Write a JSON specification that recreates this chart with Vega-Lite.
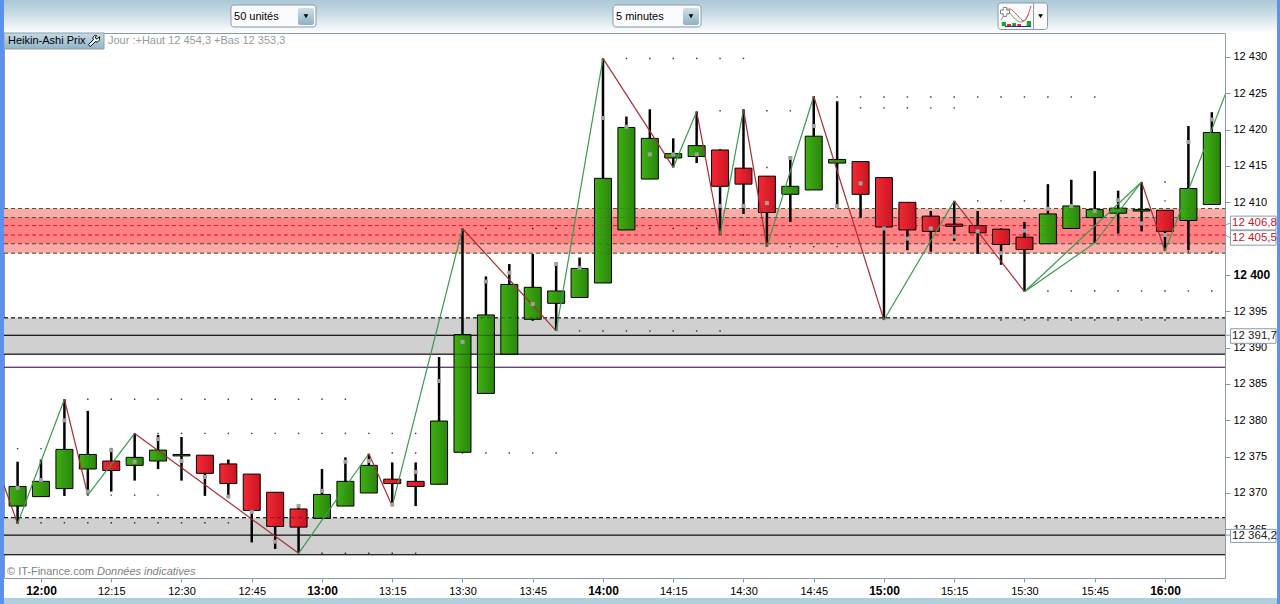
{
  "$schema": "https://vega.github.io/schema/vega-lite/v6.json",
  "width": 1221,
  "height": 545,
  "autosize": "none",
  "padding": {"left": 4, "top": 33, "right": 55, "bottom": 26},
  "background": "white",
  "config": {
    "font": "Liberation Sans",
    "view": {"stroke": "#8A9BA8", "strokeWidth": 1},
    "text": {"font": "Liberation Sans"}
  },
  "datasets": {
    "candles": [
      {"t":"2011-03-01T11:55","open":12368.2,"close":12370.9,"high":12374.3,"low":12365.8,"last":12370.7},
      {"t":"2011-03-01T12:00","open":12369.5,"close":12371.6,"high":12374.6,"low":12369.5,"last":12371.8},
      {"t":"2011-03-01T12:05","open":12370.6,"close":12376.0,"high":12382.9,"low":12369.6,"last":12380.0},
      {"t":"2011-03-01T12:10","open":12373.3,"close":12375.3,"high":12381.3,"low":12369.7,"last":12370.2},
      {"t":"2011-03-01T12:15","open":12374.4,"close":12373.1,"high":12376.2,"low":12370.2,"last":12375.9},
      {"t":"2011-03-01T12:20","open":12373.8,"close":12374.9,"high":12378.2,"low":12371.7,"last":12374.3},
      {"t":"2011-03-01T12:25","open":12374.4,"close":12375.9,"high":12378.0,"low":12373.3,"last":12377.4},
      {"t":"2011-03-01T12:30","open":12375.1,"close":12375.3,"high":12377.7,"low":12371.7,"last":12374.4},
      {"t":"2011-03-01T12:35","open":12375.2,"close":12372.7,"high":12375.2,"low":12369.6,"last":12372.2},
      {"t":"2011-03-01T12:40","open":12374.0,"close":12371.3,"high":12374.6,"low":12369.3,"last":12369.5},
      {"t":"2011-03-01T12:45","open":12372.6,"close":12367.6,"high":12372.6,"low":12363.2,"last":12367.4},
      {"t":"2011-03-01T12:50","open":12370.1,"close":12365.4,"high":12370.1,"low":12362.3,"last":12363.3},
      {"t":"2011-03-01T12:55","open":12367.8,"close":12365.3,"high":12368.2,"low":12361.7,"last":12368.2},
      {"t":"2011-03-01T13:00","open":12366.5,"close":12369.8,"high":12373.3,"low":12366.5,"last":12370.3},
      {"t":"2011-03-01T13:05","open":12368.2,"close":12371.6,"high":12374.9,"low":12368.2,"last":12374.3},
      {"t":"2011-03-01T13:10","open":12370.0,"close":12373.8,"high":12375.4,"low":12370.0,"last":12374.4},
      {"t":"2011-03-01T13:15","open":12371.9,"close":12371.3,"high":12374.2,"low":12368.2,"last":12368.4},
      {"t":"2011-03-01T13:20","open":12371.6,"close":12370.9,"high":12374.2,"low":12368.2,"last":12372.9},
      {"t":"2011-03-01T13:25","open":12371.2,"close":12379.9,"high":12388.7,"low":12371.2,"last":12385.4},
      {"t":"2011-03-01T13:30","open":12375.6,"close":12391.8,"high":12406.4,"low":12375.6,"last":12390.8},
      {"t":"2011-03-01T13:35","open":12383.7,"close":12394.5,"high":12399.8,"low":12383.7,"last":12399.1},
      {"t":"2011-03-01T13:40","open":12389.1,"close":12398.7,"high":12401.5,"low":12389.1,"last":12400.3},
      {"t":"2011-03-01T13:45","open":12393.9,"close":12398.3,"high":12402.9,"low":12393.7,"last":12396.0},
      {"t":"2011-03-01T13:50","open":12396.1,"close":12397.8,"high":12401.6,"low":12392.3,"last":12401.5},
      {"t":"2011-03-01T13:55","open":12396.9,"close":12400.9,"high":12402.4,"low":12396.9,"last":12401.0},
      {"t":"2011-03-01T14:00","open":12398.9,"close":12413.3,"high":12429.8,"low":12398.9,"last":12421.6},
      {"t":"2011-03-01T14:05","open":12406.2,"close":12420.3,"high":12421.8,"low":12406.2,"last":12420.4},
      {"t":"2011-03-01T14:10","open":12413.2,"close":12418.8,"high":12422.8,"low":12413.2,"last":12416.6},
      {"t":"2011-03-01T14:15","open":12416.1,"close":12416.7,"high":12418.8,"low":12414.8,"last":12416.6},
      {"t":"2011-03-01T14:20","open":12416.3,"close":12417.8,"high":12422.5,"low":12415.4,"last":12416.6},
      {"t":"2011-03-01T14:25","open":12417.2,"close":12412.2,"high":12417.3,"low":12405.5,"last":12409.5},
      {"t":"2011-03-01T14:30","open":12414.7,"close":12412.5,"high":12422.8,"low":12408.4,"last":12409.5},
      {"t":"2011-03-01T14:35","open":12413.6,"close":12408.6,"high":12413.6,"low":12403.9,"last":12409.9},
      {"t":"2011-03-01T14:40","open":12411.1,"close":12412.2,"high":12416.1,"low":12407.3,"last":12416.1},
      {"t":"2011-03-01T14:45","open":12411.7,"close":12419.1,"high":12424.6,"low":12411.7,"last":12420.5},
      {"t":"2011-03-01T14:50","open":12415.4,"close":12415.9,"high":12423.9,"low":12409.5,"last":12409.5},
      {"t":"2011-03-01T14:55","open":12415.6,"close":12411.1,"high":12415.6,"low":12407.9,"last":12412.6},
      {"t":"2011-03-01T15:00","open":12413.4,"close":12406.6,"high":12413.4,"low":12393.8,"last":12406.4},
      {"t":"2011-03-01T15:05","open":12410.0,"close":12406.2,"high":12410.0,"low":12403.4,"last":12405.0},
      {"t":"2011-03-01T15:10","open":12408.1,"close":12406.0,"high":12408.8,"low":12403.2,"last":12406.4},
      {"t":"2011-03-01T15:15","open":12407.0,"close":12406.7,"high":12410.2,"low":12404.7,"last":12405.3},
      {"t":"2011-03-01T15:20","open":12406.8,"close":12405.8,"high":12408.8,"low":12402.9,"last":12406.0},
      {"t":"2011-03-01T15:25","open":12406.3,"close":12404.2,"high":12406.4,"low":12401.4,"last":12403.0},
      {"t":"2011-03-01T15:30","open":12405.2,"close":12403.5,"high":12407.3,"low":12397.7,"last":12406.1},
      {"t":"2011-03-01T15:35","open":12404.3,"close":12408.4,"high":12412.5,"low":12404.3,"last":12409.1},
      {"t":"2011-03-01T15:40","open":12406.4,"close":12409.5,"high":12413.1,"low":12406.4,"last":12409.5},
      {"t":"2011-03-01T15:45","open":12407.9,"close":12409.0,"high":12414.3,"low":12404.4,"last":12408.8},
      {"t":"2011-03-01T15:50","open":12408.5,"close":12409.2,"high":12411.6,"low":12405.7,"last":12410.3},
      {"t":"2011-03-01T15:55","open":12408.8,"close":12409.0,"high":12412.8,"low":12406.0,"last":12407.1},
      {"t":"2011-03-01T16:00","open":12408.9,"close":12406.0,"high":12408.9,"low":12403.3,"last":12405.5},
      {"t":"2011-03-01T16:05","open":12407.5,"close":12411.9,"high":12420.5,"low":12403.4,"last":12418.3},
      {"t":"2011-03-01T16:10","open":12409.7,"close":12419.6,"high":12422.4,"low":12409.7,"last":12421.4}
    ],
    "levels": [
      {"t":"2011-03-01T11:52:06","t2":"2011-03-01T16:12:49","p":12409.15,"tone":"green","line":"dash"},
      {"t":"2011-03-01T11:52:06","t2":"2011-03-01T16:12:49","p":12407.9,"tone":"green","line":"dash"},
      {"t":"2011-03-01T11:52:06","t2":"2011-03-01T16:12:49","p":12406.8,"tone":"red","line":"dash"},
      {"t":"2011-03-01T11:52:06","t2":"2011-03-01T16:12:49","p":12405.5,"tone":"red","line":"dash"},
      {"t":"2011-03-01T11:52:06","t2":"2011-03-01T16:12:49","p":12404.3,"tone":"green","line":"dash"},
      {"t":"2011-03-01T11:52:06","t2":"2011-03-01T16:12:49","p":12403.0,"tone":"green","line":"dash"},
      {"t":"2011-03-01T11:52:06","t2":"2011-03-01T16:12:49","p":12394.1,"tone":"black","line":"dash"},
      {"t":"2011-03-01T11:52:06","t2":"2011-03-01T16:12:49","p":12391.7,"tone":"black","line":"solid"},
      {"t":"2011-03-01T11:52:06","t2":"2011-03-01T16:12:49","p":12389.1,"tone":"black","line":"solid"},
      {"t":"2011-03-01T11:52:06","t2":"2011-03-01T16:12:49","p":12387.3,"tone":"purple","line":"solid"},
      {"t":"2011-03-01T11:52:06","t2":"2011-03-01T16:12:49","p":12366.6,"tone":"black","line":"dash"},
      {"t":"2011-03-01T11:52:06","t2":"2011-03-01T16:12:49","p":12364.2,"tone":"black","line":"solid"},
      {"t":"2011-03-01T11:52:06","t2":"2011-03-01T16:12:49","p":12361.5,"tone":"black","line":"solid"}
    ]
  },
  "resolve": {"scale": {"color": "independent"}},
  "encoding": {
    "x": {
      "field": "t",
      "type": "temporal",
      "scale": {"nice": false, "padding": 0, "domain": [
        {"year": 2011, "month": 3, "date": 1, "hours": 11, "minutes": 52, "seconds": 6},
        {"year": 2011, "month": 3, "date": 1, "hours": 16, "minutes": 12, "seconds": 49}
      ]},
      "axis": {
        "title": null,
        "grid": false,
        "domain": false,
        "tickColor": "#8A9BA8",
        "tickSize": 4,
        "labelPadding": 3,
        "labelColor": "black",
        "labelFlush": false,
        "labelOverlap": false,
        "format": "%H:%M",
        "values": [
          {"year":2011,"month":3,"date":1,"hours":12,"minutes":0},{"year":2011,"month":3,"date":1,"hours":12,"minutes":15},{"year":2011,"month":3,"date":1,"hours":12,"minutes":30},{"year":2011,"month":3,"date":1,"hours":12,"minutes":45},
          {"year":2011,"month":3,"date":1,"hours":13,"minutes":0},{"year":2011,"month":3,"date":1,"hours":13,"minutes":15},{"year":2011,"month":3,"date":1,"hours":13,"minutes":30},{"year":2011,"month":3,"date":1,"hours":13,"minutes":45},
          {"year":2011,"month":3,"date":1,"hours":14,"minutes":0},{"year":2011,"month":3,"date":1,"hours":14,"minutes":15},{"year":2011,"month":3,"date":1,"hours":14,"minutes":30},{"year":2011,"month":3,"date":1,"hours":14,"minutes":45},
          {"year":2011,"month":3,"date":1,"hours":15,"minutes":0},{"year":2011,"month":3,"date":1,"hours":15,"minutes":15},{"year":2011,"month":3,"date":1,"hours":15,"minutes":30},{"year":2011,"month":3,"date":1,"hours":15,"minutes":45},
          {"year":2011,"month":3,"date":1,"hours":16,"minutes":0}
        ],
        "labelFontSize": {"condition": {"test": "minutes(datum.value) == 0", "value": 12}, "value": 11},
        "labelFontWeight": {"condition": {"test": "minutes(datum.value) == 0", "value": "bold"}, "value": "normal"}
      }
    },
    "y": {
      "field": "p",
      "type": "quantitative",
      "scale": {"domain": [12358.3, 12433.3], "zero": false, "nice": false},
      "axis": {
        "title": null,
        "orient": "right",
        "grid": false,
        "domain": false,
        "tickColor": "#8A9BA8",
        "tickSize": 5,
        "labelPadding": 3,
        "labelColor": "black",
        "labelOverlap": false,
        "labelFlush": false,
        "values": [12365, 12370, 12375, 12380, 12385, 12390, 12395, 12400, 12410, 12415, 12420, 12425, 12430],
        "labelExpr": "replace(format(datum.value, ','), ',', ' ')",
        "labelFontSize": {"condition": {"test": "datum.value == 12400", "value": 12}, "value": 11},
        "labelFontWeight": {"condition": {"test": "datum.value == 12400", "value": "bold"}, "value": "normal"}
      }
    }
  },
  "layer": [
    {
      "data": {"values": [
        {"t":"2011-03-01T11:52:06","t2":"2011-03-01T16:12:49","p":12403.0,"p2":12409.15,"zone":"outer"},
        {"t":"2011-03-01T11:52:06","t2":"2011-03-01T16:12:49","p":12404.3,"p2":12407.9,"zone":"inner"},
        {"t":"2011-03-01T11:52:06","t2":"2011-03-01T16:12:49","p":12389.1,"p2":12394.1,"zone":"grey"},
        {"t":"2011-03-01T11:52:06","t2":"2011-03-01T16:12:49","p":12361.5,"p2":12366.6,"zone":"grey"}
      ]},
      "mark": {"type": "rect"},
      "encoding": {
        "x2": {"field": "t2"},
        "y2": {"field": "p2"},
        "color": {"field": "zone", "type": "nominal", "legend": null, "scale": {"domain": ["outer", "inner", "grey"], "range": ["#FFAAAA", "#FF8184", "#D0D0D0"]}}
      }
    },
    {
      "data": {"name": "levels"},
      "mark": {"type": "rule", "strokeWidth": 1},
      "encoding": {
        "x2": {"field": "t2"},
        "color": {"field": "tone", "type": "nominal", "legend": null, "scale": {"domain": ["green", "red", "black", "purple"], "range": ["#2F6B2F", "#E0202C", "#000000", "#4A1068"]}},
        "strokeDash": {"field": "line", "type": "nominal", "legend": null, "scale": {"domain": ["solid", "dash"], "range": [[1, 0], [4, 3]]}}
      }
    },
    {
      "data": {"values": [
        {"t":"2011-03-01T12:10","p":12382.9},{"t":"2011-03-01T12:15","p":12382.9},{"t":"2011-03-01T12:20","p":12382.9},{"t":"2011-03-01T12:25","p":12382.9},{"t":"2011-03-01T12:30","p":12382.9},{"t":"2011-03-01T12:35","p":12382.9},{"t":"2011-03-01T12:40","p":12382.9},{"t":"2011-03-01T12:45","p":12382.9},{"t":"2011-03-01T12:50","p":12382.9},{"t":"2011-03-01T12:55","p":12382.9},{"t":"2011-03-01T13:00","p":12382.9},{"t":"2011-03-01T13:05","p":12382.9},
        {"t":"2011-03-01T12:25","p":12378.2},{"t":"2011-03-01T12:30","p":12378.2},{"t":"2011-03-01T12:35","p":12378.2},{"t":"2011-03-01T12:40","p":12378.2},{"t":"2011-03-01T12:45","p":12378.2},{"t":"2011-03-01T12:50","p":12378.2},{"t":"2011-03-01T12:55","p":12378.2},{"t":"2011-03-01T13:00","p":12378.2},{"t":"2011-03-01T13:05","p":12378.2},{"t":"2011-03-01T13:10","p":12378.2},{"t":"2011-03-01T13:15","p":12378.2},{"t":"2011-03-01T13:20","p":12378.2},{"t":"2011-03-01T13:25","p":12378.2},{"t":"2011-03-01T13:30","p":12378.2},
        {"t":"2011-03-01T11:55","p":12376.1},{"t":"2011-03-01T12:00","p":12376.1},
        {"t":"2011-03-01T13:15","p":12375.5},{"t":"2011-03-01T13:20","p":12375.5},{"t":"2011-03-01T13:25","p":12375.5},{"t":"2011-03-01T13:30","p":12375.5},{"t":"2011-03-01T13:35","p":12375.5},{"t":"2011-03-01T13:40","p":12375.5},{"t":"2011-03-01T13:45","p":12375.5},{"t":"2011-03-01T13:50","p":12375.5},
        {"t":"2011-03-01T12:05","p":12369.7},{"t":"2011-03-01T12:10","p":12369.7},{"t":"2011-03-01T12:15","p":12369.7},{"t":"2011-03-01T12:20","p":12369.7},{"t":"2011-03-01T12:25","p":12369.7},
        {"t":"2011-03-01T11:55","p":12365.9},{"t":"2011-03-01T12:00","p":12365.9},{"t":"2011-03-01T12:05","p":12365.9},{"t":"2011-03-01T12:10","p":12365.9},{"t":"2011-03-01T12:15","p":12365.9},{"t":"2011-03-01T12:20","p":12365.9},{"t":"2011-03-01T12:25","p":12365.9},{"t":"2011-03-01T12:30","p":12365.9},{"t":"2011-03-01T12:35","p":12365.9},{"t":"2011-03-01T12:40","p":12365.9},
        {"t":"2011-03-01T13:00","p":12361.7},{"t":"2011-03-01T13:05","p":12361.7},{"t":"2011-03-01T13:10","p":12361.7},{"t":"2011-03-01T13:15","p":12361.7},{"t":"2011-03-01T13:20","p":12361.7},
        {"t":"2011-03-01T13:35","p":12406.4},{"t":"2011-03-01T13:40","p":12406.4},{"t":"2011-03-01T13:45","p":12406.4},{"t":"2011-03-01T13:50","p":12406.4},{"t":"2011-03-01T13:55","p":12406.4},{"t":"2011-03-01T14:00","p":12406.4},{"t":"2011-03-01T14:05","p":12406.4},{"t":"2011-03-01T14:10","p":12406.4},{"t":"2011-03-01T14:15","p":12406.4},{"t":"2011-03-01T14:20","p":12406.4},
        {"t":"2011-03-01T13:55","p":12392.3},{"t":"2011-03-01T14:00","p":12392.3},{"t":"2011-03-01T14:05","p":12392.3},{"t":"2011-03-01T14:10","p":12392.3},{"t":"2011-03-01T14:15","p":12392.3},{"t":"2011-03-01T14:20","p":12392.3},{"t":"2011-03-01T14:25","p":12392.3},
        {"t":"2011-03-01T14:05","p":12429.8},{"t":"2011-03-01T14:10","p":12429.8},{"t":"2011-03-01T14:15","p":12429.8},{"t":"2011-03-01T14:20","p":12429.8},{"t":"2011-03-01T14:25","p":12429.8},{"t":"2011-03-01T14:30","p":12429.8},
        {"t":"2011-03-01T14:50","p":12424.5},{"t":"2011-03-01T14:55","p":12424.5},{"t":"2011-03-01T15:00","p":12424.5},{"t":"2011-03-01T15:05","p":12424.5},{"t":"2011-03-01T15:10","p":12424.5},{"t":"2011-03-01T15:15","p":12424.5},{"t":"2011-03-01T15:20","p":12424.5},{"t":"2011-03-01T15:25","p":12424.5},{"t":"2011-03-01T15:30","p":12424.5},{"t":"2011-03-01T15:35","p":12424.5},{"t":"2011-03-01T15:40","p":12424.5},{"t":"2011-03-01T15:45","p":12424.5},
        {"t":"2011-03-01T14:55","p":12423.0},{"t":"2011-03-01T15:00","p":12423.0},{"t":"2011-03-01T15:05","p":12423.0},{"t":"2011-03-01T15:10","p":12423.0},{"t":"2011-03-01T15:15","p":12423.0},
        {"t":"2011-03-01T14:25","p":12422.6},{"t":"2011-03-01T14:35","p":12422.6},{"t":"2011-03-01T14:40","p":12422.6},
        {"t":"2011-03-01T14:25","p":12414.8},{"t":"2011-03-01T14:35","p":12414.8},
        {"t":"2011-03-01T14:40","p":12403.9},{"t":"2011-03-01T14:45","p":12403.9},{"t":"2011-03-01T14:50","p":12403.9},
        {"t":"2011-03-01T14:30","p":12405.5},
        {"t":"2011-03-01T15:25","p":12393.8},{"t":"2011-03-01T15:30","p":12393.8},{"t":"2011-03-01T15:35","p":12393.8},{"t":"2011-03-01T15:40","p":12393.8},{"t":"2011-03-01T15:45","p":12393.8},{"t":"2011-03-01T15:50","p":12393.8},{"t":"2011-03-01T15:55","p":12393.8},{"t":"2011-03-01T16:00","p":12393.8},
        {"t":"2011-03-01T15:35","p":12397.8},{"t":"2011-03-01T15:40","p":12397.8},{"t":"2011-03-01T15:45","p":12397.8},{"t":"2011-03-01T15:50","p":12397.8},{"t":"2011-03-01T15:55","p":12397.8},{"t":"2011-03-01T16:00","p":12397.8},{"t":"2011-03-01T16:05","p":12397.8},{"t":"2011-03-01T16:10","p":12397.8},
        {"t":"2011-03-01T15:20","p":12410.2},{"t":"2011-03-01T15:25","p":12410.2},{"t":"2011-03-01T15:30","p":12410.2},{"t":"2011-03-01T16:00","p":12410.2},{"t":"2011-03-01T16:05","p":12410.2},{"t":"2011-03-01T16:10","p":12410.2},
        {"t":"2011-03-01T16:00","p":12412.8},{"t":"2011-03-01T16:05","p":12412.8},{"t":"2011-03-01T16:10","p":12412.8},
        {"t":"2011-03-01T16:05","p":12403.2},{"t":"2011-03-01T16:10","p":12403.2}
      ]},
      "mark": {"type": "point", "shape": "square", "filled": true, "size": 2, "color": "#111111", "opacity": 0.85}
    },
    {
      "data": {"name": "candles"},
      "mark": {"type": "rule", "color": "black", "strokeWidth": 2.5},
      "encoding": {
        "y": {"field": "low", "type": "quantitative"},
        "y2": {"field": "high"}
      }
    },
    {
      "data": {"name": "candles"},
      "transform": [{"filter": "datum.close >= datum.open"}],
      "mark": {
        "type": "bar",
        "width": 17,
        "stroke": "black",
        "strokeWidth": 1,
        "fill": {"gradient": "linear", "x1": 0, "y1": 0, "x2": 1, "y2": 0, "stops": [{"offset": 0, "color": "#3FAF12"}, {"offset": 1, "color": "#2A860C"}]}
      },
      "encoding": {
        "y": {"field": "open", "type": "quantitative"},
        "y2": {"field": "close"}
      }
    },
    {
      "data": {"name": "candles"},
      "transform": [{"filter": "datum.close < datum.open"}],
      "mark": {
        "type": "bar",
        "width": 17,
        "stroke": "black",
        "strokeWidth": 1,
        "fill": {"gradient": "linear", "x1": 0, "y1": 0, "x2": 1, "y2": 0, "stops": [{"offset": 0, "color": "#F22A34"}, {"offset": 1, "color": "#CC1422"}]}
      },
      "encoding": {
        "y": {"field": "open", "type": "quantitative"},
        "y2": {"field": "close"}
      }
    },
    {
      "data": {"name": "levels"},
      "mark": {"type": "rule", "strokeWidth": 1, "opacity": 0.35},
      "encoding": {
        "x2": {"field": "t2"},
        "color": {"field": "tone", "type": "nominal", "legend": null, "scale": {"domain": ["green", "red", "black", "purple"], "range": ["#2F6B2F", "#E0202C", "#000000", "#4A1068"]}},
        "strokeDash": {"field": "line", "type": "nominal", "legend": null, "scale": {"domain": ["solid", "dash"], "range": [[1, 0], [4, 3]]}}
      }
    },
    {
      "data": {"values": [
        {"t":"2011-03-01T11:50","p":12374.8,"t2":"2011-03-01T11:55","p2":12365.8,"leg":"down"},
        {"t":"2011-03-01T11:55","p":12365.8,"t2":"2011-03-01T12:05","p2":12382.9,"leg":"up"},
        {"t":"2011-03-01T12:05","p":12382.9,"t2":"2011-03-01T12:10","p2":12369.7,"leg":"down"},
        {"t":"2011-03-01T12:10","p":12369.7,"t2":"2011-03-01T12:20","p2":12378.2,"leg":"up"},
        {"t":"2011-03-01T12:20","p":12378.2,"t2":"2011-03-01T12:55","p2":12361.7,"leg":"down"},
        {"t":"2011-03-01T12:55","p":12361.7,"t2":"2011-03-01T13:10","p2":12375.4,"leg":"up"},
        {"t":"2011-03-01T13:10","p":12375.4,"t2":"2011-03-01T13:15","p2":12368.2,"leg":"down"},
        {"t":"2011-03-01T13:15","p":12368.2,"t2":"2011-03-01T13:30","p2":12406.4,"leg":"up"},
        {"t":"2011-03-01T13:30","p":12406.4,"t2":"2011-03-01T13:50","p2":12392.3,"leg":"down"},
        {"t":"2011-03-01T13:50","p":12392.3,"t2":"2011-03-01T14:00","p2":12429.8,"leg":"up"},
        {"t":"2011-03-01T14:00","p":12429.8,"t2":"2011-03-01T14:15","p2":12414.8,"leg":"down"},
        {"t":"2011-03-01T14:15","p":12414.8,"t2":"2011-03-01T14:20","p2":12422.5,"leg":"up"},
        {"t":"2011-03-01T14:20","p":12422.5,"t2":"2011-03-01T14:25","p2":12405.5,"leg":"down"},
        {"t":"2011-03-01T14:25","p":12405.5,"t2":"2011-03-01T14:30","p2":12422.8,"leg":"up"},
        {"t":"2011-03-01T14:30","p":12422.8,"t2":"2011-03-01T14:35","p2":12403.9,"leg":"down"},
        {"t":"2011-03-01T14:35","p":12403.9,"t2":"2011-03-01T14:45","p2":12424.6,"leg":"up"},
        {"t":"2011-03-01T14:45","p":12424.6,"t2":"2011-03-01T15:00","p2":12393.8,"leg":"down"},
        {"t":"2011-03-01T15:00","p":12393.8,"t2":"2011-03-01T15:15","p2":12410.2,"leg":"up"},
        {"t":"2011-03-01T15:15","p":12410.2,"t2":"2011-03-01T15:30","p2":12397.7,"leg":"down"},
        {"t":"2011-03-01T15:30","p":12397.7,"t2":"2011-03-01T15:45","p2":12404.4,"leg":"up"},
        {"t":"2011-03-01T15:30","p":12397.7,"t2":"2011-03-01T15:55","p2":12412.8,"leg":"up"},
        {"t":"2011-03-01T15:45","p":12404.4,"t2":"2011-03-01T15:55","p2":12412.8,"leg":"up"},
        {"t":"2011-03-01T15:55","p":12412.8,"t2":"2011-03-01T16:00","p2":12403.3,"leg":"down"},
        {"t":"2011-03-01T16:00","p":12403.3,"t2":"2011-03-01T16:15","p2":12428.4,"leg":"up"}
      ]},
      "mark": {"type": "rule", "strokeWidth": 1.2, "clip": true},
      "encoding": {
        "x2": {"field": "t2"},
        "y2": {"field": "p2"},
        "color": {"field": "leg", "type": "nominal", "legend": null, "scale": {"domain": ["up", "down"], "range": ["#3C9A4C", "#A62F38"]}}
      }
    },
    {
      "data": {"name": "candles"},
      "mark": {"type": "point", "shape": "square", "filled": true, "size": 16, "color": "#A0A0A0", "opacity": 1},
      "encoding": {
        "y": {"field": "last", "type": "quantitative"}
      }
    },
    {
      "data": {"values": [
        {"t":"2011-03-01T16:12:49","t2":"2011-03-01T16:14:00","p":12406.8,"p2":12407.2},
        {"t":"2011-03-01T16:12:49","t2":"2011-03-01T16:14:00","p":12405.5,"p2":12405.1},
        {"t":"2011-03-01T16:12:49","t2":"2011-03-01T16:14:00","p":12391.7,"p2":12391.7},
        {"t":"2011-03-01T16:12:49","t2":"2011-03-01T16:14:00","p":12364.2,"p2":12364.2}
      ]},
      "mark": {"type": "rule", "color": "#8A9BA8", "strokeWidth": 1},
      "encoding": {"x2": {"field": "t2"}, "y2": {"field": "p2"}}
    },
    {
      "data": {"values": [
        {"t":"2011-03-01T16:14:00","t2":"2011-03-01T16:23:43","p":12406.2,"p2":12408.1},
        {"t":"2011-03-01T16:14:00","t2":"2011-03-01T16:23:43","p":12404.1,"p2":12406.1},
        {"t":"2011-03-01T16:14:00","t2":"2011-03-01T16:23:43","p":12390.6,"p2":12392.6},
        {"t":"2011-03-01T16:14:00","t2":"2011-03-01T16:23:43","p":12363.2,"p2":12365.0}
      ]},
      "mark": {"type": "rect", "fill": "white", "stroke": "#8A9BA8", "strokeWidth": 1},
      "encoding": {"x2": {"field": "t2"}, "y2": {"field": "p2"}}
    },
    {
      "data": {"values": [
        {"t":"2011-03-01T16:14:20","p":12407.15,"label":"12 406,8"},
        {"t":"2011-03-01T16:14:20","p":12405.1,"label":"12 405,5"}
      ]},
      "mark": {"type": "text", "align": "left", "baseline": "middle", "fontSize": 11.5, "color": "#C01828"},
      "encoding": {"text": {"field": "label"}}
    },
    {
      "data": {"values": [
        {"t":"2011-03-01T16:14:20","p":12391.6,"label":"12 391,7"},
        {"t":"2011-03-01T16:14:20","p":12364.1,"label":"12 364,2"}
      ]},
      "mark": {"type": "text", "align": "left", "baseline": "middle", "fontSize": 11.5, "color": "#202020"},
      "encoding": {"text": {"field": "label"}}
    },
    {
      "data": {"values": [
        {"t":"2011-03-01T11:50:00","t2":"2011-03-01T16:30:00","p":12433.44,"p2":12438.5}
      ]},
      "mark": {
        "type": "rect",
        "fill": {"gradient": "linear", "x1": 0, "y1": 0, "x2": 0, "y2": 1, "stops": [{"offset": 0, "color": "#A2C3D3"}, {"offset": 0.45, "color": "#C4D8E1"}, {"offset": 1, "color": "#FBFCFD"}]}
      },
      "encoding": {"x2": {"field": "t2"}, "y2": {"field": "p2"}}
    },
    {
      "data": {"values": [
        {"t":"2011-03-01T11:50:00","t2":"2011-03-01T16:30:00","p":12354.0,"p2":12355.55}
      ]},
      "mark": {"type": "rect", "fill": "#AFCFDF"},
      "encoding": {"x2": {"field": "t2"}, "y2": {"field": "p2"}}
    },
    {
      "data": {"values": [
        {"t":"2011-03-01T11:50:00","t2":"2011-03-01T11:52:06","p":12354.0,"p2":12438.5},
        {"t":"2011-03-01T16:23:56","t2":"2011-03-01T16:30:00","p":12354.0,"p2":12438.5}
      ]},
      "mark": {"type": "rect", "fill": "#5C8FEE"},
      "encoding": {"x2": {"field": "t2"}, "y2": {"field": "p2"}}
    },
    {
      "data": {"values": [
        {"t":"2011-03-01T11:52:06","t2":"2011-03-01T12:13:27","p":12431.1,"p2":12433.3}
      ]},
      "mark": {
        "type": "rect",
        "stroke": "#8A9BA8",
        "strokeWidth": 1,
        "fill": {"gradient": "linear", "x1": 0, "y1": 0, "x2": 0, "y2": 1, "stops": [{"offset": 0, "color": "#C6DBE5"}, {"offset": 1, "color": "#8FB5C8"}]}
      },
      "encoding": {"x2": {"field": "t2"}, "y2": {"field": "p2"}}
    },
    {
      "data": {"values": [{"t":"2011-03-01T12:11:19","p":12432.2}]},
      "mark": {
        "type": "point",
        "filled": true,
        "size": 150,
        "fill": "white",
        "stroke": "black",
        "strokeWidth": 1,
        "opacity": 1,
        "shape": "M0.9,-0.7 L0.5,-0.3 L0.2,-0.5 L0.4,-0.9 C0,-1 -0.3,-0.6 -0.1,-0.2 L-0.9,0.6 L-0.6,0.9 L0.2,0.1 C0.6,0.3 1,0 0.9,-0.7 Z"
      }
    },
    {
      "data": {"values": [
        {"t":"2011-03-01T12:40:34","t2":"2011-03-01T12:58:43","p":12434.13,"p2":12437.15},
        {"t":"2011-03-01T14:02:08","t2":"2011-03-01T14:20:56","p":12434.13,"p2":12437.15},
        {"t":"2011-03-01T15:24:21","t2":"2011-03-01T15:34:55","p":12433.78,"p2":12437.43}
      ]},
      "mark": {"type": "rect", "fill": "#FAFBFC", "stroke": "#8A9BA8", "strokeWidth": 1, "cornerRadius": 3},
      "encoding": {"x2": {"field": "t2"}, "y2": {"field": "p2"}}
    },
    {
      "data": {"values": [
        {"t":"2011-03-01T12:54:53","t2":"2011-03-01T12:58:18","p":12434.4,"p2":12436.74},
        {"t":"2011-03-01T14:17:05","t2":"2011-03-01T14:20:30","p":12434.4,"p2":12436.74}
      ]},
      "mark": {
        "type": "rect",
        "cornerRadius": 2,
        "fill": {"gradient": "linear", "x1": 0, "y1": 0, "x2": 0, "y2": 1, "stops": [{"offset": 0, "color": "#CFE0E8"}, {"offset": 1, "color": "#8FB0C2"}]}
      },
      "encoding": {"x2": {"field": "t2"}, "y2": {"field": "p2"}}
    },
    {
      "data": {"values": [
        {"t":"2011-03-01T15:31:56","t2":"2011-03-01T15:31:56","p":12433.78,"p2":12437.43}
      ]},
      "mark": {"type": "rule", "color": "#8A9BA8", "strokeWidth": 1},
      "encoding": {"x2": {"field": "t2"}, "y2": {"field": "p2"}}
    },
    {
      "data": {"values": [
        {"t":"2011-03-01T12:56:35","p":12435.6},
        {"t":"2011-03-01T14:18:48","p":12435.6},
        {"t":"2011-03-01T15:33:26","p":12435.6}
      ]},
      "mark": {"type": "point", "shape": "triangle-down", "filled": true, "size": 22, "color": "black", "opacity": 1}
    },
    {
      "data": {"values": [
        {"t":"2011-03-01T15:25:08","t2":"2011-03-01T15:26:04","p":12434.26,"p2":12434.81,"kind":"green"},
        {"t":"2011-03-01T15:26:17","t2":"2011-03-01T15:27:08","p":12434.26,"p2":12434.54,"kind":"red"},
        {"t":"2011-03-01T15:27:24","t2":"2011-03-01T15:28:12","p":12434.26,"p2":12434.67,"kind":"green"},
        {"t":"2011-03-01T15:28:28","t2":"2011-03-01T15:29:16","p":12434.26,"p2":12434.54,"kind":"red"},
        {"t":"2011-03-01T15:30:29","t2":"2011-03-01T15:31:24","p":12434.26,"p2":12434.95,"kind":"green"}
      ]},
      "mark": {"type": "rect"},
      "encoding": {
        "x2": {"field": "t2"},
        "y2": {"field": "p2"},
        "color": {"field": "kind", "type": "nominal", "legend": null, "scale": {"domain": ["green", "red"], "range": ["#1FA02A", "#D0304A"]}}
      }
    },
    {
      "data": {"values": [
        {"t":"2011-03-01T15:25:00","p":12435.09,"curve":"green"},
        {"t":"2011-03-01T15:26:29","p":12436.19,"curve":"green"},
        {"t":"2011-03-01T15:27:46","p":12435.37,"curve":"green"},
        {"t":"2011-03-01T15:29:16","p":12434.81,"curve":"green"},
        {"t":"2011-03-01T15:30:58","p":12435.92,"curve":"green"},
        {"t":"2011-03-01T15:25:25","p":12436.47,"curve":"red"},
        {"t":"2011-03-01T15:26:55","p":12436.6,"curve":"red"},
        {"t":"2011-03-01T15:28:12","p":12435.92,"curve":"red"},
        {"t":"2011-03-01T15:29:54","p":12434.95,"curve":"red"},
        {"t":"2011-03-01T15:31:24","p":12437.02,"curve":"red"}
      ]},
      "mark": {"type": "line", "strokeWidth": 1, "interpolate": "monotone"},
      "encoding": {
        "color": {"field": "curve", "type": "nominal", "legend": null, "scale": {"domain": ["green", "red"], "range": ["#55B060", "#D05060"]}}
      }
    },
    {
      "data": {"values": [
        {"t":"2011-03-01T15:25:50","t2":"2011-03-01T15:31:24","p":12434.2,"p2":12434.2}
      ]},
      "mark": {"type": "rule", "color": "#2020A0", "strokeWidth": 1},
      "encoding": {"x2": {"field": "t2"}, "y2": {"field": "p2"}}
    },
    {
      "data": {"values": [{"t":"2011-03-01T15:25:50","p":12436.2}]},
      "mark": {"type": "point", "shape": "cross", "filled": true, "size": 80, "fill": "white", "stroke": "#808080", "strokeWidth": 1, "opacity": 1}
    },
    {
      "data": {"values": [
        {"t":"2011-03-01T11:52:57","p":12432.2,"label":"Heikin-Ashi Prix"},
        {"t":"2011-03-01T12:41:13","p":12435.5,"label":"50 unités"},
        {"t":"2011-03-01T14:02:47","p":12435.5,"label":"5 minutes"}
      ]},
      "mark": {"type": "text", "align": "left", "baseline": "middle", "fontSize": 11, "color": "black"},
      "encoding": {"text": {"field": "label"}}
    },
    {
      "data": {"values": [
        {"t":"2011-03-01T12:14:18","p":12432.2,"label":"Jour :+Haut 12 454,3 +Bas 12 353,3"}
      ]},
      "mark": {"type": "text", "align": "left", "baseline": "middle", "fontSize": 11, "color": "#999999"},
      "encoding": {"text": {"field": "label"}}
    },
    {
      "data": {"values": [
        {"t":"2011-03-01T11:52:44","p":12359.13,"label":"© IT-Finance.com"}
      ]},
      "mark": {"type": "text", "align": "left", "baseline": "middle", "fontSize": 11, "color": "#808080"},
      "encoding": {"text": {"field": "label"}}
    },
    {
      "data": {"values": [
        {"t":"2011-03-01T12:11:57","p":12359.13,"label":"Données indicatives"}
      ]},
      "mark": {"type": "text", "align": "left", "baseline": "middle", "fontSize": 11, "fontStyle": "italic", "color": "#808080"},
      "encoding": {"text": {"field": "label"}}
    }
  ]
}
